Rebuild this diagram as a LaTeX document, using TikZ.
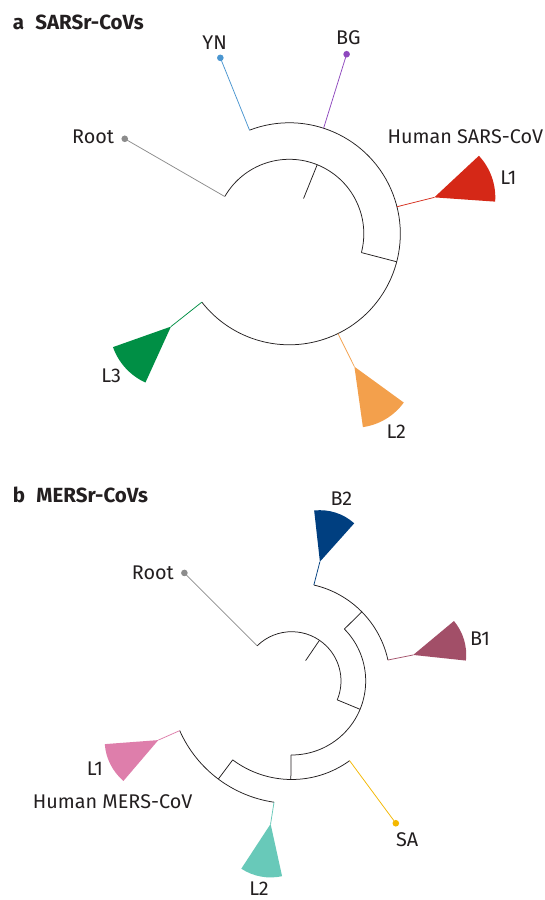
\documentclass[tikz,border=0pt]{standalone}
\usepackage{fontspec}
\setmainfont{Fira Sans}
\definecolor{cYN}{HTML}{4A96D0}
\definecolor{cBG}{HTML}{8E48BE}
\definecolor{cRoot}{HTML}{8C8C8C}
\definecolor{cRed}{HTML}{D52817}
\definecolor{cOr}{HTML}{F3A04C}
\definecolor{cGr}{HTML}{008F45}
\definecolor{cB2}{HTML}{003F80}
\definecolor{cB1}{HTML}{A24F68}
\definecolor{cPk}{HTML}{DE7EAB}
\definecolor{cTl}{HTML}{68C9B9}
\definecolor{cSA}{HTML}{F4B800}
\definecolor{cTxt}{HTML}{231F20}
\tikzset{
  tree/.style={draw=cTxt, line width=0.75pt},
  br/.style={line width=0.75pt},
  lab/.style={font=\fontsize{19.8}{23}\selectfont, inner sep=0pt, text=cTxt},
  ttl/.style={font=\fontsize{20.5}{24}\selectfont\bfseries, inner sep=0pt, text=cTxt},
  tipdot/.style={circle, inner sep=0pt, minimum size=6.6pt},
}
\begin{document}
\begin{tikzpicture}[x=1pt,y=1pt]
\useasboundingbox (0,0) rectangle (545,900);
\fill[white] (0,0) rectangle (545,900);

% ---------------- panel a ----------------
\begin{scope}[shift={(289.3,666.2)}]
  \coordinate (aI0) at (150:74.5pt);
  \coordinate (aI1) at (-14.6:74.5pt);
  \coordinate (aSi) at (68:38pt);
  \coordinate (aSo) at (68:74.5pt);
  \coordinate (aO1) at (-14.6:111pt);
  \coordinate (aYN0) at (111:111pt);
  \coordinate (aBG0) at (72:111pt);
  \coordinate (aRed0) at (14.1:111pt);
  \coordinate (aOr0) at (-64:111pt);
  \coordinate (aGr0) at (-142:111pt);
  \coordinate (aRedA) at (14.1:149.5pt);
  \coordinate (aOrA) at (-63.9:148pt);
  \coordinate (aGrA) at (-141.9:150.4pt);
  \node[tipdot, fill=cRoot] (aRootDot) at (150:190pt) {};
  \node[tipdot, fill=cYN] (aYNdot) at (111.4:189pt) {};
  \node[tipdot, fill=cBG] (aBGdot) at (72.3:188.5pt) {};
\end{scope}
\draw[tree] (aI0) arc[start angle=150, end angle=-14.6, radius=74.5pt];
\draw[tree] (aSi) -- (aSo);
\draw[tree] (aI1) -- (aO1);
\draw[tree] (aYN0) arc[start angle=111, end angle=-142, radius=111pt];
\draw[br, cRoot] (aI0) -- (aRootDot.center);
\draw[br, cYN] (aYN0) -- (aYNdot.center);
\draw[br, cBG] (aBG0) -- (aBGdot.center);
\draw[br, cRed] (aRed0) -- (aRedA);
\draw[br, cOr] (aOr0) -- (aOrA);
\draw[br, cGr] (aGr0) -- (aGrA);
\fill[cRed] (aRedA) -- ++(-4:61pt) arc[start angle=-4, end angle=43, radius=61pt] -- cycle;
\fill[cOr] (aOrA) -- ++(-82:61pt) arc[start angle=-82, end angle=-36, radius=61pt] -- cycle;
\fill[cGr] (aGrA) -- ++(199.5:61.5pt) arc[start angle=199.5, end angle=245.5, radius=61.5pt] -- cycle;

\node[ttl, anchor=base west] (aTitle) at (12.7,870.7) {a\hspace{0.55em}SARSr-CoVs};
\node[lab, anchor=base] (aYNl) at (214.7,850.7) {YN};
\node[lab, anchor=base] (aBGl) at (348.3,855) {BG};
\node[lab, anchor=base east] (aRootl) at (114.3,756.7) {Root};
\node[lab, anchor=base east] (aHum) at (543.3,756.7) {Human SARS-CoV};
\node[lab, anchor=base] (aL1) at (508.3,715) {L1};
\node[lab, anchor=base] (aL3) at (111.2,517.3) {L3};
\node[lab, anchor=base] (aL2) at (396.3,461.7) {L2};

% ---------------- panel b ----------------
\begin{scope}[shift={(291.7,219)}]
  \coordinate (bI0) at (134.5:49.3pt);
  \coordinate (bI1) at (-22.5:49.3pt);
  \coordinate (bSi) at (55.7:24.7pt);
  \coordinate (bSo) at (55.7:49.3pt);
  \coordinate (bM1) at (-22.5:74pt);
  \coordinate (bM0) at (44.6:74pt);
  \coordinate (bMb) at (-90.5:74pt);
  \coordinate (bU1) at (44.6:98.5pt);
  \coordinate (bB20) at (77:98.5pt);
  \coordinate (bB10) at (12.3:98.5pt);
  \coordinate (bLb) at (-90.5:98.5pt);
  \coordinate (bSA0) at (-54:98.5pt);
  \coordinate (bLc) at (-126.8:98.5pt);
  \coordinate (bOc) at (-126.8:122.5pt);
  \coordinate (bL20) at (-98.3:122.5pt);
  \coordinate (bL10) at (-156.1:122.5pt);
  \coordinate (bB2A) at (76.7:122.6pt);
  \coordinate (bB1A) at (12.1:124.3pt);
  \coordinate (bL2A) at (-98.4:144.5pt);
  \coordinate (bL1A) at (-156.1:145.9pt);
  \node[tipdot, fill=cRoot] (bRootDot) at (134.8:152.3pt) {};
  \node[tipdot, fill=cSA] (bSAdot) at (-53.8:176.3pt) {};
\end{scope}
\draw[tree] (bI0) arc[start angle=134.5, end angle=-22.5, radius=49.3pt];
\draw[tree] (bSi) -- (bSo);
\draw[tree] (bI1) -- (bM1);
\draw[tree] (bM0) arc[start angle=44.6, end angle=-90.5, radius=74pt];
\draw[tree] (bM0) -- (bU1);
\draw[tree] (bB20) arc[start angle=77, end angle=12.3, radius=98.5pt];
\draw[tree] (bMb) -- (bLb);
\draw[tree] (bSA0) arc[start angle=-54, end angle=-126.8, radius=98.5pt];
\draw[tree] (bLc) -- (bOc);
\draw[tree] (bL20) arc[start angle=-98.3, end angle=-156.1, radius=122.5pt];
\draw[br, cRoot] (bI0) -- (bRootDot.center);
\draw[br, cSA] (bSA0) -- (bSAdot.center);
\draw[br, cB2] (bB20) -- (bB2A);
\draw[br, cB1] (bB10) -- (bB1A);
\draw[br, cTl] (bL20) -- (bL2A);
\draw[br, cPk] (bL10) -- (bL1A);
\fill[cB2] (bB2A) -- ++(48.2:51.5pt) arc[start angle=48.2, end angle=96.4, radius=51.5pt] -- cycle;
\fill[cB1] (bB1A) -- ++(-6.1:53pt) arc[start angle=-6.1, end angle=39.8, radius=53pt] -- cycle;
\fill[cTl] (bL2A) -- ++(236.8:53.5pt) arc[start angle=236.8, end angle=282.4, radius=53.5pt] -- cycle;
\fill[cPk] (bL1A) -- ++(184.3:53.7pt) arc[start angle=184.3, end angle=229.5, radius=53.7pt] -- cycle;

\node[ttl, anchor=base west] (bTitle) at (12.7,397.3) {b\hspace{0.55em}MERSr-CoVs};
\node[lab, anchor=base] (bB2l) at (341.3,394) {B2};
\node[lab, anchor=base east] (bRootl) at (174,320.7) {Root};
\node[lab, anchor=base west] (bB1l) at (470,254.3) {B1};
\node[lab, anchor=base] (bL1l) at (95,124) {L1};
\node[lab, anchor=base west] (bHum) at (32.7,91.7) {Human MERS-CoV};
\node[lab, anchor=base] (bL2l) at (259,5) {L2};
\node[lab, anchor=base] (bSAl) at (407.2,53.3) {SA};
\end{tikzpicture}
\end{document}
